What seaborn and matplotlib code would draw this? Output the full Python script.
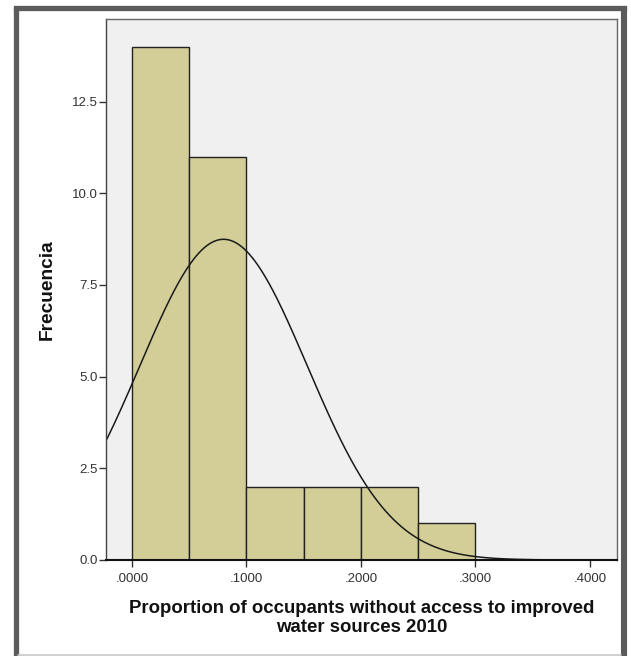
import numpy as np
import pandas as pd
import seaborn as sns
import matplotlib
matplotlib.use("Agg")
import matplotlib.pyplot as plt
from matplotlib.lines import Line2D

# ---- data ----
bin_edges = [0.00, 0.05, 0.10, 0.15, 0.20, 0.25, 0.30]
bin_counts = [14, 11, 2, 2, 2, 1]
fit_mean = 0.080      # normal curve mean
fit_sd = 0.073        # normal curve std dev
x_ticks = [0.0, 0.1, 0.2, 0.3, 0.4]
x_tick_labels = [".0000", ".1000", ".2000", ".3000", ".4000"]
y_ticks = [0.0, 2.5, 5.0, 7.5, 10.0, 12.5]
y_tick_labels = ["0.0", "2.5", "5.0", "7.5", "10.0", "12.5"]
x_label = "Proportion of occupants without access to improved\nwater sources 2010"
y_label = "Frecuencia"

sns.set_theme(style="white")
plt.rcParams['font.family'] = ['Liberation Sans', 'DejaVu Sans']

W, H = 631, 656
fig = plt.figure(figsize=(W / 100, H / 100), dpi=100)
fig.patch.set_facecolor("white")

def fx(px):
    return px / W

def fy(py):
    return 1 - py / H

# outer frame (SPSS style): dark top/left/right, light bottom
frame_col = "#5b5b5b"
fig.add_artist(Line2D([fx(15.5), fx(623.5)], [fy(7.5), fy(7.5)], color=frame_col, lw=3.8,
                      solid_capstyle="projecting", transform=fig.transFigure))
fig.add_artist(Line2D([fx(15.5), fx(15.5)], [fy(7.5), fy(656)], color=frame_col, lw=3.8,
                      solid_capstyle="butt", transform=fig.transFigure))
fig.add_artist(Line2D([fx(623.5), fx(623.5)], [fy(7.5), fy(656)], color=frame_col, lw=4.4,
                      solid_capstyle="butt", transform=fig.transFigure))
fig.add_artist(Line2D([fx(18), fx(621)], [fy(654.5), fy(654.5)], color="#c8c8c8", lw=1.2,
                      transform=fig.transFigure))

ax = fig.add_axes([fx(106), fy(560), (617 - 106) / W, (560 - 19) / H])
ax.set_facecolor("#f0f0f0")

centers = [(a + b) / 2 for a, b in zip(bin_edges[:-1], bin_edges[1:])]
df = pd.DataFrame({"x": centers, "w": bin_counts})
sns.histplot(data=df, x="x", weights="w", bins=bin_edges, ax=ax,
             color="#d3ce98", edgecolor="#222222", linewidth=1.0, alpha=1.0)

# fitted normal curve
N = sum(bin_counts)
bw = bin_edges[1] - bin_edges[0]
xs = np.linspace(-0.03, 0.43, 400)
ys = N * bw / (fit_sd * np.sqrt(2 * np.pi)) * np.exp(-0.5 * ((xs - fit_mean) / fit_sd) ** 2)
sns.lineplot(x=xs, y=ys, ax=ax, color="#1a1a1a", linewidth=1.1)

ax.set_xlim(-0.0227, 0.4237)
ax.set_ylim(0, 14.75)
ax.set_xticks(x_ticks)
ax.set_xticklabels(x_tick_labels)
ax.set_yticks(y_ticks)
ax.set_yticklabels(y_tick_labels)
ax.tick_params(axis="both", direction="out", length=5, width=1, color="#333333",
               labelsize=9.5, labelcolor="#333333", bottom=True, left=True)
ax.tick_params(axis="x", pad=4)
ax.tick_params(axis="y", pad=1)

for s in ["top", "right"]:
    ax.spines[s].set_color("#666666")
    ax.spines[s].set_linewidth(1.0)
ax.spines["left"].set_color("#444444")
ax.spines["left"].set_linewidth(1.0)
ax.spines["bottom"].set_color("#111111")
ax.spines["bottom"].set_linewidth(1.5)

ax.set_xlabel("")
ax.set_ylabel("")
fig.text(fx(362), fy(618), x_label, ha="center", va="center",
         fontsize=13.4, fontweight="bold", color="#111111", linespacing=1.08)
fig.text(fx(47), fy(290), y_label, ha="center", va="center", rotation=90,
         fontsize=13.8, fontweight="bold", color="#111111")

fig.savefig("out.png", dpi=100)
